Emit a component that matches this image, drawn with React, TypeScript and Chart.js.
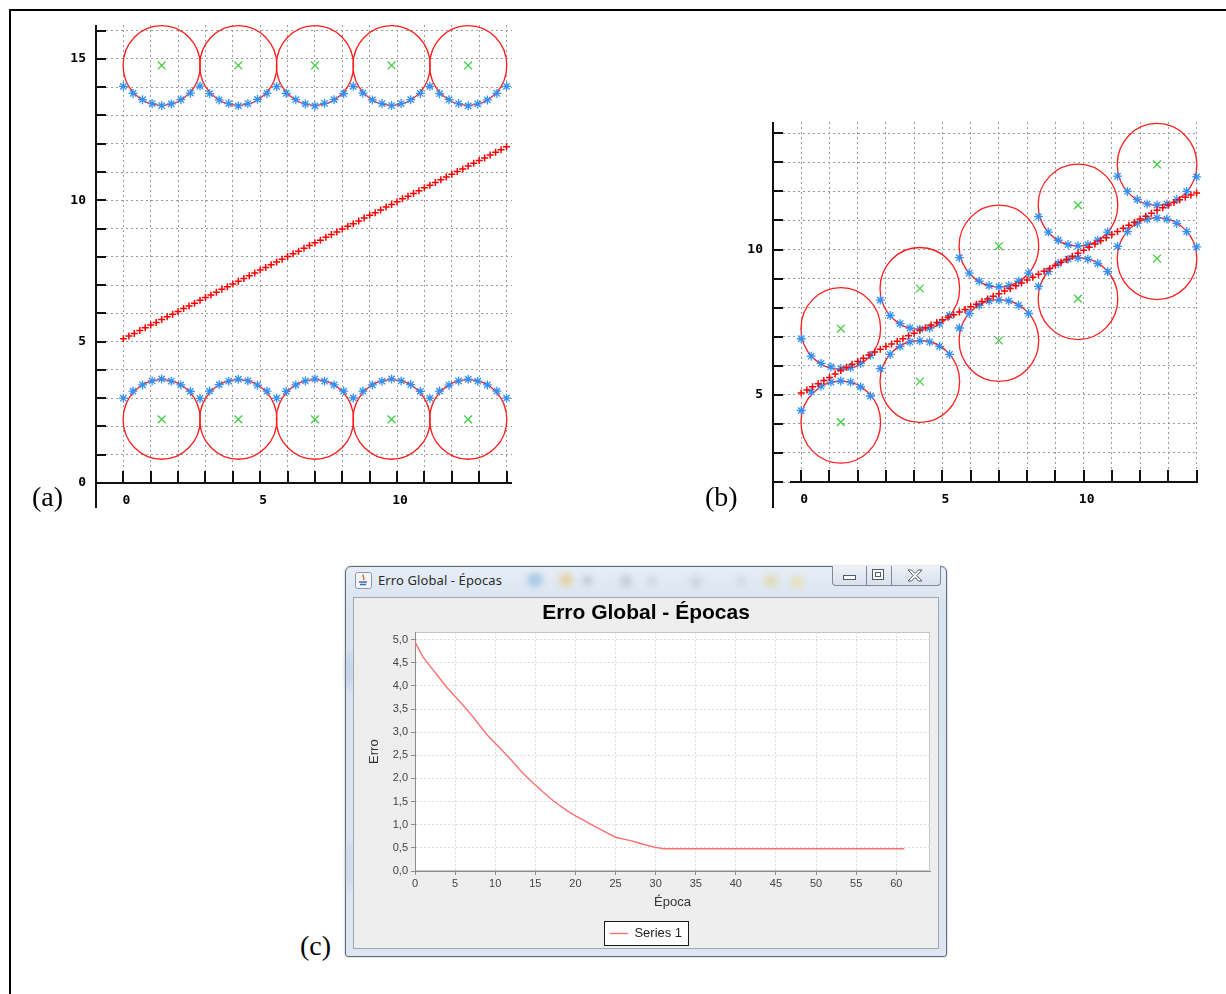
import React, { useEffect, useRef } from 'react';
import { Chart, registerables } from 'chart.js';

Chart.register(...registerables);

// ---------- self-organising map panels (a) and (b) ----------

// neuron positions along the map (red "+"), one every 0.2 on x
const NEURON_X = [
  0, 0.2, 0.4, 0.6, 0.8, 1, 1.2, 1.4, 1.6, 1.8,
  2, 2.2, 2.4, 2.6, 2.8, 3, 3.2, 3.4, 3.6, 3.8,
  4, 4.2, 4.4, 4.6, 4.8, 5, 5.2, 5.4, 5.6, 5.8,
  6, 6.2, 6.4, 6.6, 6.8, 7, 7.2, 7.4, 7.6, 7.8,
  8, 8.2, 8.4, 8.6, 8.8, 9, 9.2, 9.4, 9.6, 9.8,
  10, 10.2, 10.4, 10.6, 10.8, 11, 11.2, 11.4, 11.6, 11.8,
  12, 12.2, 12.4, 12.6, 12.8, 13, 13.2, 13.4, 13.6, 13.8,
  14,
];
const NEURON_Y_A = [
  5.10, 5.20, 5.29, 5.39, 5.49, 5.59, 5.68, 5.78, 5.88, 5.97,
  6.07, 6.17, 6.26, 6.36, 6.46, 6.56, 6.65, 6.75, 6.85, 6.94,
  7.04, 7.14, 7.23, 7.33, 7.43, 7.53, 7.62, 7.72, 7.82, 7.91,
  8.01, 8.11, 8.20, 8.30, 8.40, 8.50, 8.59, 8.69, 8.79, 8.88,
  8.98, 9.08, 9.17, 9.27, 9.37, 9.47, 9.56, 9.66, 9.76, 9.85,
  9.95, 10.05, 10.14, 10.24, 10.34, 10.44, 10.53, 10.63, 10.73, 10.82,
  10.92, 11.02, 11.11, 11.21, 11.31, 11.41, 11.50, 11.60, 11.70, 11.79,
  11.89,
];
const NEURON_Y_B = [
  5.06, 5.17, 5.28, 5.38, 5.49, 5.60, 5.72, 5.84, 5.95, 6.05,
  6.15, 6.26, 6.37, 6.47, 6.57, 6.66, 6.75, 6.84, 6.93, 7.03,
  7.12, 7.22, 7.31, 7.40, 7.49, 7.58, 7.67, 7.76, 7.85, 7.94,
  8.03, 8.12, 8.21, 8.30, 8.39, 8.48, 8.57, 8.66, 8.75, 8.85,
  8.95, 9.05, 9.15, 9.25, 9.35, 9.46, 9.56, 9.66, 9.77, 9.87,
  9.98, 10.08, 10.19, 10.30, 10.41, 10.52, 10.62, 10.73, 10.84, 10.94,
  11.05, 11.15, 11.25, 11.35, 11.44, 11.53, 11.62, 11.71, 11.80, 11.88,
  11.95,
];

// input samples (blue stars)
const SAMPLE_X = [
  0, 0.35, 0.7, 1.05, 1.4, 1.75, 2.1, 2.45,
  2.8, 3.15, 3.5, 3.85, 4.2, 4.55, 4.9, 5.25,
  5.6, 5.95, 6.3, 6.65, 7.0, 7.35, 7.7, 8.05,
  8.4, 8.75, 9.1, 9.45, 9.8, 10.15, 10.5, 10.85,
  11.2, 11.55, 11.9, 12.25, 12.6, 12.95, 13.3, 13.65,
  14.0,
];
const SAMPLE_TOP_A = [
  14.03, 13.78, 13.56, 13.42, 13.35, 13.41, 13.56, 13.79,
  14.04, 13.77, 13.55, 13.42, 13.34, 13.42, 13.57, 13.78,
  14.02, 13.78, 13.56, 13.41, 13.34, 13.43, 13.56, 13.77,
  14.03, 13.79, 13.55, 13.42, 13.35, 13.42, 13.56, 13.78,
  14.03, 13.77, 13.56, 13.42, 13.34, 13.41, 13.55, 13.78,
  14.03,
];
const SAMPLE_BOTTOM_A = [
  3.00, 3.25, 3.47, 3.61, 3.68, 3.60, 3.47, 3.24,
  2.99, 3.25, 3.48, 3.60, 3.67, 3.61, 3.46, 3.25,
  3.00, 3.24, 3.47, 3.61, 3.68, 3.60, 3.47, 3.25,
  3.01, 3.25, 3.47, 3.60, 3.68, 3.61, 3.48, 3.24,
  3.00, 3.25, 3.46, 3.61, 3.67, 3.60, 3.47, 3.25,
  3.00,
];
const SAMPLE_UPPER_B = [
  6.93, 6.33, 6.08, 5.96, 5.90, 5.94, 6.08, 6.36,
  8.26, 7.73, 7.45, 7.30, 7.26, 7.30, 7.45, 7.73,
  9.72, 9.19, 8.91, 8.76, 8.72, 8.76, 8.91, 9.19,
  11.13, 10.60, 10.32, 10.17, 10.13, 10.17, 10.32, 10.60,
  12.53, 12.00, 11.72, 11.57, 11.53, 11.57, 11.72, 12.00,
  12.50,
];
const SAMPLE_LOWER_B = [
  4.46, 5.10, 5.30, 5.44, 5.48, 5.44, 5.27, 4.96,
  5.90, 6.39, 6.67, 6.82, 6.86, 6.82, 6.67, 6.39,
  7.30, 7.80, 8.08, 8.23, 8.27, 8.23, 8.08, 7.80,
  8.73, 9.24, 9.52, 9.67, 9.71, 9.67, 9.52, 9.24,
  10.11, 10.62, 10.90, 11.05, 11.09, 11.05, 10.90, 10.62,
  10.09,
];

// cluster centres (green x) and their radius of influence (red circles)
const CENTER_X = [1.4, 4.2, 7.0, 9.8, 12.6];
const CENTER_TOP_A = [14.77, 14.77, 14.77, 14.77, 14.77];
const CENTER_BOTTOM_A = [2.25, 2.25, 2.25, 2.25, 2.25];
const CENTER_UPPER_B = [7.28, 8.66, 10.12, 11.53, 12.93];
const CENTER_LOWER_B = [4.06, 5.46, 6.87, 8.31, 9.69];
const CIRCLE_RADIUS = 1.41;

const GRID_X = [0, 1, 2, 3, 4, 5, 6, 7, 8, 9, 10, 11, 12, 13, 14];
const LABELS_X = [0, 5, 10];
const GRID_Y_A = [0, 1, 2, 3, 4, 5, 6, 7, 8, 9, 10, 11, 12, 13, 14, 15, 16];
const LABELS_Y_A = [0, 5, 10, 15];
const GRID_Y_B = [2, 3, 4, 5, 6, 7, 8, 9, 10, 11, 12, 13, 14];
const LABELS_Y_B = [5, 10];

// ---------- training error panel (c) ----------

const EPOCHS = [
  0, 1, 2, 3, 4, 5, 6, 7, 8, 9,
  10, 11, 12, 13, 14, 15, 16, 17, 18, 19,
  20, 21, 22, 23, 24, 25, 26, 27, 28, 29,
  30, 31, 32, 33, 34, 35, 36, 37, 38, 39,
  40, 41, 42, 43, 44, 45, 46, 47, 48, 49,
  50, 51, 52, 53, 54, 55, 56, 57, 58, 59,
  60, 61,
];
const ERRORS = [
  4.95, 4.62, 4.40, 4.18, 3.96, 3.77, 3.58, 3.38, 3.16, 2.94,
  2.76, 2.58, 2.40, 2.20, 2.02, 1.86, 1.70, 1.55, 1.42, 1.30,
  1.19, 1.10, 1.00, 0.91, 0.82, 0.73, 0.69, 0.65, 0.60, 0.55,
  0.51, 0.48, 0.48, 0.48, 0.48, 0.48, 0.48, 0.48, 0.48, 0.48,
  0.48, 0.48, 0.48, 0.48, 0.48, 0.48, 0.48, 0.48, 0.48, 0.48,
  0.48, 0.48, 0.48, 0.48, 0.48, 0.48, 0.48, 0.48, 0.48, 0.48,
  0.48, 0.48,
];
const TICKS_EPOCH = [0, 5, 10, 15, 20, 25, 30, 35, 40, 45, 50, 55, 60];
const TICKS_ERROR = [0, 0.5, 1, 1.5, 2, 2.5, 3, 3.5, 4, 4.5, 5];

const MONO = "'DejaVu Sans Mono', 'Liberation Mono', monospace";
const SANS = "'Liberation Sans', Arial, sans-serif";

const pts = (xs: number[], ys: number[]) => xs.map((x, i) => ({ x, y: ys[i] }));

// circles around every centre, hand-drawn axes with inward ticks
function somDecor(rows: number[][], gridY: number[], xAxisFrom: number, axisTail: number) {
  return {
    id: 'somDecor',
    beforeDatasetsDraw(chart: any) {
      const { ctx } = chart;
      const xs = chart.scales.x;
      const ys = chart.scales.y;
      ctx.save();
      ctx.strokeStyle = '#ff1c1c';
      ctx.lineWidth = 1.3;
      rows.forEach((row) =>
        row.forEach((cy, i) => {
          const cx = CENTER_X[i];
          const px = xs.getPixelForValue(cx);
          const py = ys.getPixelForValue(cy);
          const rx = xs.getPixelForValue(cx + CIRCLE_RADIUS) - px;
          const ry = py - ys.getPixelForValue(cy + CIRCLE_RADIUS);
          ctx.beginPath();
          ctx.ellipse(px, py, rx, ry, 0, 0, Math.PI * 2);
          ctx.stroke();
        })
      );
      ctx.restore();
    },
    afterDraw(chart: any) {
      const { ctx, chartArea } = chart;
      const { left, right, top, bottom } = chartArea;
      const xs = chart.scales.x;
      const ys = chart.scales.y;
      ctx.save();
      ctx.strokeStyle = '#111';
      ctx.lineWidth = 2;
      ctx.beginPath();
      ctx.moveTo(left, top);
      ctx.lineTo(left, bottom + axisTail);
      ctx.moveTo(xs.getPixelForValue(xAxisFrom), bottom);
      ctx.lineTo(right, bottom);
      gridY.forEach((v) => {
        const y = Math.round(ys.getPixelForValue(v));
        ctx.moveTo(left, y);
        ctx.lineTo(left + 10, y);
      });
      GRID_X.forEach((v) => {
        const x = Math.round(xs.getPixelForValue(v));
        ctx.moveTo(x, bottom);
        ctx.lineTo(x, bottom - 12);
      });
      ctx.stroke();
      ctx.restore();
    },
  };
}

function somConfig(p: any) {
  const tickFont = { family: MONO, size: 13, weight: 'bold' };
  return {
    type: 'scatter',
    data: {
      datasets: [
        {
          data: pts(NEURON_X, p.neuronsY),
          pointStyle: 'cross',
          pointRadius: 3.5,
          borderColor: '#ff0000',
          backgroundColor: '#ff0000',
          borderWidth: 1.5,
          clip: false,
        },
        {
          data: [...pts(CENTER_X, p.centersHigh), ...pts(CENTER_X, p.centersLow)],
          pointStyle: 'crossRot',
          pointRadius: 5.5,
          borderColor: '#3dcc3d',
          backgroundColor: '#3dcc3d',
          borderWidth: 1.2,
          clip: false,
        },
        {
          data: [...pts(SAMPLE_X, p.samplesHigh), ...pts(SAMPLE_X, p.samplesLow)],
          pointStyle: 'star',
          pointRadius: 4.5,
          borderColor: '#3390f5',
          backgroundColor: '#3390f5',
          borderWidth: 1.3,
          clip: false,
        },
      ],
    },
    options: {
      animation: false,
      responsive: false,
      events: [],
      layout: { padding: { left: 0, top: p.padTop, right: p.padRight, bottom: 0 } },
      plugins: { legend: { display: false }, tooltip: { enabled: false }, title: { display: false } },
      scales: {
        x: {
          type: 'linear',
          min: -1,
          max: p.xMax,
          afterBuildTicks: (s: any) => {
            s.ticks = GRID_X.map((v) => ({ value: v }));
          },
          afterFit: (s: any) => {
            s.height = p.axisHeight;
            s.paddingLeft = 0;
            s.paddingRight = 0;
          },
          grid: { color: '#9b9b9b', lineWidth: 1, drawTicks: false },
          border: { display: false, dash: [2, 3] },
          ticks: {
            autoSkip: false,
            maxRotation: 0,
            padding: 10,
            labelOffset: 3,
            color: '#000',
            font: tickFont,
            callback: (v: number) => (LABELS_X.includes(v) ? String(v) : ''),
          },
        },
        y: {
          type: 'linear',
          min: p.yMin,
          max: p.yMax,
          afterBuildTicks: (s: any) => {
            s.ticks = p.gridY.map((v: number) => ({ value: v }));
          },
          afterFit: (s: any) => {
            s.width = p.axisWidth;
            s.paddingTop = 0;
            s.paddingBottom = 0;
          },
          grid: { color: '#9b9b9b', lineWidth: 1, drawTicks: false },
          border: { display: false, dash: [2, 3] },
          ticks: {
            autoSkip: false,
            padding: 10,
            color: '#000',
            font: tickFont,
            callback: (v: number) => (p.labelsY.includes(v) ? String(v) : ''),
          },
        },
      },
    },
    plugins: [somDecor([p.centersHigh, p.centersLow], p.gridY, p.xAxisFrom, p.axisTail)],
  };
}

// white plot background, light outline and the boxed legend
const plotFrame = {
  id: 'plotFrame',
  beforeDraw(chart: any) {
    const { ctx, chartArea: a } = chart;
    ctx.save();
    ctx.fillStyle = '#ffffff';
    ctx.fillRect(a.left, a.top, a.right - a.left, a.bottom - a.top);
    ctx.strokeStyle = '#c4c4c4';
    ctx.lineWidth = 1;
    ctx.strokeRect(Math.round(a.left) + 0.5, Math.round(a.top) + 0.5, Math.round(a.right - a.left) - 1, Math.round(a.bottom - a.top) - 1);
    const box = chart.legend && chart.legend.legendHitBoxes && chart.legend.legendHitBoxes[0];
    if (box) {
      const x = Math.round(box.left - 6) + 0.5;
      const y = Math.round(box.top - 6) + 0.5;
      const w = Math.round(box.width + 12);
      const h = Math.round(box.height + 11);
      ctx.fillStyle = '#ffffff';
      ctx.fillRect(x, y, w, h);
      ctx.strokeStyle = '#1a1a1a';
      ctx.strokeRect(x, y, w, h);
    }
    ctx.restore();
  },
};

function errorConfig() {
  const tickFont = { family: SANS, size: 11 };
  const grid = { color: '#dadada', lineWidth: 1, drawTicks: true, tickLength: 4, tickColor: '#8c8c8c', tickWidth: 1 };
  const border = { display: true, color: '#8c8c8c', width: 1, dash: [2, 2] };
  return {
    type: 'line',
    data: {
      datasets: [
        {
          label: 'Series 1',
          data: pts(EPOCHS, ERRORS),
          borderColor: '#ff6f6f',
          backgroundColor: '#ff6f6f',
          borderWidth: 1.4,
          pointRadius: 0,
          tension: 0,
          fill: false,
        },
      ],
    },
    options: {
      animation: false,
      responsive: false,
      events: [],
      layout: { padding: { left: 0, right: 8, top: 0, bottom: 0 } },
      scales: {
        x: {
          type: 'linear',
          min: 0,
          max: 64.2,
          afterBuildTicks: (s: any) => {
            s.ticks = TICKS_EPOCH.map((v) => ({ value: v }));
          },
          afterFit: (s: any) => {
            s.height = 46;
          },
          grid,
          border,
          ticks: { autoSkip: false, maxRotation: 0, padding: 2, color: '#444', font: tickFont },
          title: { display: true, text: 'Época', color: '#333', font: { family: SANS, size: 13 }, padding: { top: 4, bottom: 7 } },
        },
        y: {
          type: 'linear',
          min: 0,
          max: 5.16,
          afterBuildTicks: (s: any) => {
            s.ticks = TICKS_ERROR.map((v) => ({ value: v }));
          },
          afterFit: (s: any) => {
            s.width = 53;
          },
          grid,
          border,
          ticks: {
            autoSkip: false,
            padding: 3,
            color: '#444',
            font: tickFont,
            callback: (v: number) => v.toFixed(1).replace('.', ','),
          },
          title: { display: true, text: 'Erro', color: '#333', font: { family: SANS, size: 13 }, padding: { top: 5, bottom: 0 } },
        },
      },
      plugins: {
        title: {
          display: true,
          text: 'Erro Global - Épocas',
          color: '#000',
          font: { family: SANS, size: 21, weight: 'bold' },
          padding: { top: 3, bottom: 6 },
        },
        legend: {
          position: 'bottom',
          labels: {
            usePointStyle: true,
            pointStyle: 'line',
            pointStyleWidth: 18,
            color: '#222',
            font: { family: SANS, size: 13 },
            padding: 10,
          },
        },
        tooltip: { enabled: false },
      },
    },
    plugins: [plotFrame],
  };
}

function ChartCanvas({ make, left, top, width, height }: any) {
  const ref = useRef<HTMLCanvasElement>(null);
  useEffect(() => {
    const chart = new Chart(ref.current as HTMLCanvasElement, make());
    return () => chart.destroy();
  }, []);
  return (
    <canvas
      ref={ref}
      width={width}
      height={height}
      style={{ position: 'absolute', left, top, width, height }}
    />
  );
}

const panelLabel = (text: string, left: number, top: number) => (
  <div
    style={{
      position: 'absolute',
      left,
      top,
      font: "28px 'Liberation Serif', 'Times New Roman', serif",
      color: '#000',
      lineHeight: '32px',
    }}
  >
    {text}
  </div>
);

const blob = (left: number, top: number, w: number, h: number, color: string) => (
  <div
    style={{
      position: 'absolute',
      left,
      top,
      width: w,
      height: h,
      borderRadius: '50%',
      background: color,
      filter: 'blur(3px)',
      opacity: 0.55,
    }}
  />
);

export default function App() {
  useEffect(() => {
    document.body.style.overflow = 'hidden';
  }, []);

  const chartA = () =>
    somConfig({
      neuronsY: NEURON_Y_A,
      samplesHigh: SAMPLE_TOP_A,
      samplesLow: SAMPLE_BOTTOM_A,
      centersHigh: CENTER_TOP_A,
      centersLow: CENTER_BOTTOM_A,
      xMax: 14.2,
      yMin: 0,
      yMax: 16.2,
      gridY: GRID_Y_A,
      labelsY: LABELS_Y_A,
      axisWidth: 56,
      axisHeight: 42,
      padTop: 10,
      padRight: 18,
      xAxisFrom: -1,
      axisTail: 25,
    });

  const chartB = () =>
    somConfig({
      neuronsY: NEURON_Y_B,
      samplesHigh: SAMPLE_UPPER_B,
      samplesLow: SAMPLE_LOWER_B,
      centersHigh: CENTER_UPPER_B,
      centersLow: CENTER_LOWER_B,
      xMax: 14.05,
      yMin: 2,
      yMax: 14.39,
      gridY: GRID_Y_B,
      labelsY: LABELS_Y_B,
      axisWidth: 58,
      axisHeight: 38,
      padTop: 12,
      padRight: 17,
      xAxisFrom: -0.4,
      axisTail: 26,
    });

  return (
    <div
      style={{
        position: 'absolute',
        left: 0,
        top: 0,
        width: 1226,
        height: 994,
        background: '#fff',
        overflow: 'hidden',
      }}
    >
      {/* figure frame */}
      <div style={{ position: 'absolute', left: 9, top: 9, right: 0, height: 2, background: '#000' }} />
      <div style={{ position: 'absolute', left: 9, top: 9, width: 2, bottom: 0, background: '#000' }} />

      <ChartCanvas make={chartA} left={40} top={15} width={490} height={510} />
      <ChartCanvas make={chartB} left={715} top={110} width={500} height={410} />
      {panelLabel('(a)', 32, 481)}
      {panelLabel('(b)', 705, 481)}

      {/* application window holding the error chart */}
      <div
        style={{
          position: 'absolute',
          left: 345,
          top: 566,
          width: 602,
          height: 391,
          boxSizing: 'border-box',
          border: '1px solid #5e6b7b',
          borderRadius: '6px 6px 3px 3px',
          background: 'linear-gradient(180deg, #e6edf6 0%, #d9e3ef 10%, #dde6f1 100%)',
          boxShadow: '0 0 2px rgba(0,0,0,0.35)',
        }}
      />
      {blob(527, 573, 16, 14, '#7bb0d8')}
      {blob(559, 573, 14, 14, '#e6c36a')}
      {blob(583, 576, 9, 9, '#9aa6b5')}
      {blob(620, 575, 12, 12, '#aab6c4')}
      {blob(648, 577, 8, 8, '#b4bfcc')}
      {blob(690, 577, 12, 10, '#b7c1cd')}
      {blob(737, 577, 8, 8, '#b7c1cd')}
      {blob(764, 575, 14, 12, '#e4cf7c')}
      {blob(790, 576, 14, 12, '#ecd98e')}
      {blob(346, 650, 6, 40, '#9fb8d8')}
      {blob(346, 840, 6, 50, '#b7c6dc')}
      <svg width="17" height="17" style={{ position: 'absolute', left: 355, top: 572 }}>
        <rect x="0.5" y="0.5" width="16" height="16" rx="2" fill="#f3f5f8" stroke="#8c98aa" />
        <path d="M8.5 2.5 C6.5 4.5, 10.5 5.5, 8.5 8" stroke="#e06a1f" fill="none" strokeWidth="1.4" />
        <path d="M4 10 H12 M5 12.5 H11" stroke="#3b6ea8" strokeWidth="1.3" />
      </svg>
      <div
        style={{
          position: 'absolute',
          left: 378,
          top: 572,
          font: "13px 'Noto Sans', 'Open Sans', sans-serif",
          letterSpacing: '0.1px',
          color: '#2b2b2b',
          lineHeight: '16px',
        }}
      >
        Erro Global - Épocas
      </div>
      {/* caption buttons */}
      <div
        style={{
          position: 'absolute',
          left: 832,
          top: 566,
          width: 109,
          height: 20,
          boxSizing: 'border-box',
          border: '1px solid #7d8898',
          borderTop: 'none',
          borderRadius: '0 0 4px 4px',
          background: 'linear-gradient(180deg, #eef2f7, #d9e1ec)',
        }}
      />
      <div style={{ position: 'absolute', left: 866, top: 566, width: 1, height: 19, background: '#7d8898' }} />
      <div style={{ position: 'absolute', left: 891, top: 566, width: 1, height: 19, background: '#7d8898' }} />
      <div style={{ position: 'absolute', left: 843, top: 575, width: 11, height: 3, border: '1px solid #4f5a68', background: '#fff' }} />
      <div style={{ position: 'absolute', left: 872, top: 569, width: 10, height: 9, border: '1px solid #4f5a68', background: '#fff' }} />
      <div style={{ position: 'absolute', left: 875, top: 572, width: 4, height: 3, border: '1px solid #4f5a68' }} />
      <svg width="16" height="13" style={{ position: 'absolute', left: 907, top: 569 }}>
        <path
          d="M1 1 H4.5 L8 4.5 L11.5 1 H15 L9.8 6.5 L15 12 H11.5 L8 8.5 L4.5 12 H1 L6.2 6.5 Z"
          fill="#ffffff"
          stroke="#4f5a68"
          strokeWidth="1"
        />
      </svg>
      {/* content panel */}
      <div
        style={{
          position: 'absolute',
          left: 353,
          top: 597,
          width: 586,
          height: 352,
          boxSizing: 'border-box',
          border: '1px solid #9ea7b2',
          background: '#eeeeee',
        }}
      />
      <ChartCanvas make={errorConfig} left={362} top={598} width={576} height={352} />
      {panelLabel('(c)', 300, 930)}
    </div>
  );
}
